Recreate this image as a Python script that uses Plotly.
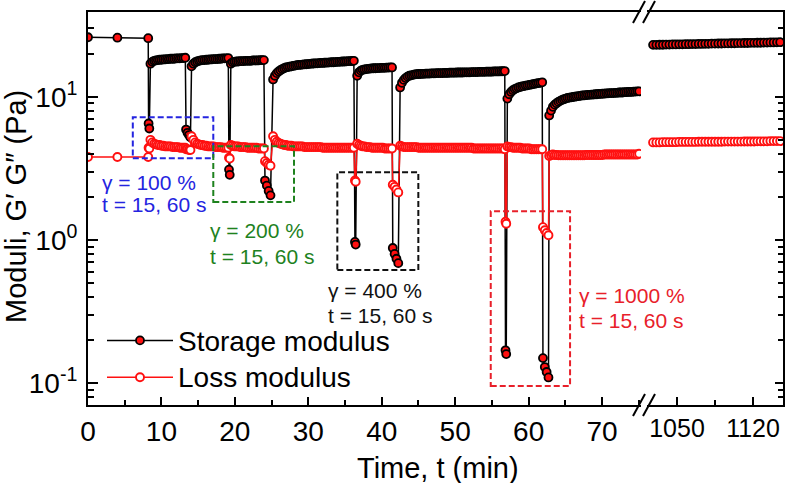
import plotly.graph_objects as go

# ---------------- data ----------------
DT = 0.25        # min, sampling interval of the low-strain recovery sweeps
LATE_DT = 3.0    # min, sampling interval of the long-time sweep

# initial low-strain plateau
t_init = [0.0, 4.0, 8.2]
gp_init = [26.0, 25.8, 25.6]
gpp_init = [3.8, 3.8, 3.8]

# high-strain intervals (explicit times, min)
t_s1 = [8.25, 8.35];                 gp_s1 = [6.5, 6.0];                 gpp_s1 = [4.4, 4.35]          # 100 %, 15 s
t_s2 = [13.35, 13.55, 13.75, 13.95]; gp_s2 = [5.9, 5.6, 5.4, 5.2];       gpp_s2 = [4.3, 4.3, 4.25, 4.25]  # 100 %, 60 s
t_s3 = [19.2, 19.3];                 gp_s3 = [3.1, 2.85];                gpp_s3 = [3.75, 3.7]          # 200 %, 15 s
t_s4 = [24.1, 24.35, 24.6, 24.85];   gp_s4 = [2.6, 2.4, 2.2, 2.05];      gpp_s4 = [3.55, 3.45, 3.35, 3.3]  # 200 %, 60 s
t_s5 = [36.35, 36.45];               gp_s5 = [0.97, 0.93];               gpp_s5 = [2.6, 2.55]          # 400 %, 15 s
t_s6 = [41.5, 41.75, 42.0, 42.25];   gp_s6 = [0.88, 0.80, 0.74, 0.69];   gpp_s6 = [2.43, 2.35, 2.25, 2.15]  # 400 %, 60 s
t_s7 = [56.85, 56.95];               gp_s7 = [0.17, 0.16];               gpp_s7 = [1.34, 1.3]          # 1000 %, 15 s
t_s8 = [61.95, 62.2, 62.45, 62.7];   gp_s8 = [0.15, 0.13, 0.12, 0.11];   gpp_s8 = [1.23, 1.17, 1.12, 1.08]  # 1000 %, 60 s

# recovery sweeps at low strain: start time (min) and readings every DT
r1_t0 = 8.5
gp_r1 = [17.0, 17.5, 17.8, 17.9, 18.0, 18.1, 18.1, 18.2, 18.2, 18.3,
         18.3, 18.4, 18.4, 18.4, 18.5, 18.5, 18.5, 18.6, 18.6, 18.7]
gpp_r1 = [5.0, 4.8, 4.7, 4.65, 4.6, 4.6, 4.55, 4.55, 4.5, 4.5,
          4.5, 4.5, 4.45, 4.45, 4.45, 4.45, 4.4, 4.4, 4.4, 4.4]

r2_t0 = 14.1
gp_r2 = [16.3, 17.0, 17.4, 17.6, 17.8, 17.9, 18.0, 18.0, 18.1, 18.1,
         18.2, 18.2, 18.3, 18.3, 18.3, 18.4, 18.4, 18.5, 18.5, 18.5, 18.6]
gpp_r2 = [5.3, 5.0, 4.8, 4.7, 4.65, 4.6, 4.6, 4.55, 4.55, 4.5,
          4.5, 4.5, 4.5, 4.45, 4.45, 4.45, 4.45, 4.4, 4.4, 4.4, 4.4]

r3_t0 = 19.45
gp_r3 = [17.0, 17.4, 17.5, 17.6, 17.6, 17.7, 17.7, 17.7, 17.8, 17.8,
         17.8, 17.8, 17.9, 17.9, 17.9, 17.9, 18.0, 18.0, 18.0]
gpp_r3 = [4.6, 4.55, 4.5, 4.5, 4.5, 4.45, 4.45, 4.45, 4.45, 4.4,
          4.4, 4.4, 4.4, 4.4, 4.4, 4.35, 4.35, 4.35, 4.35]

r4_t0 = 25.2
gp_r4 = [13.2, 14.0, 14.6, 15.0, 15.3, 15.6, 15.8, 16.0, 16.1, 16.2,
         16.3, 16.4, 16.5, 16.6, 16.65, 16.7, 16.75, 16.8, 16.85, 16.9,
         16.95, 17.0, 17.05, 17.1, 17.1, 17.15, 17.2, 17.2, 17.25, 17.3,
         17.3, 17.35, 17.4, 17.4, 17.45, 17.5, 17.5, 17.55, 17.6, 17.6,
         17.65, 17.7, 17.7, 17.75, 17.8]
gpp_r4 = [5.3, 5.0, 4.85, 4.75, 4.7, 4.65, 4.6, 4.6, 4.55, 4.55,
          4.55, 4.5, 4.5, 4.5, 4.5, 4.5, 4.5, 4.45, 4.45, 4.45,
          4.45, 4.45, 4.45, 4.45, 4.45, 4.45, 4.45, 4.4, 4.4, 4.4,
          4.4, 4.4, 4.4, 4.4, 4.4, 4.4, 4.4, 4.4, 4.4, 4.4,
          4.4, 4.4, 4.4, 4.4, 4.4]

r5_t0 = 36.65
gp_r5 = [14.0, 14.8, 15.2, 15.4, 15.5, 15.6, 15.65, 15.7, 15.75, 15.8,
         15.8, 15.85, 15.85, 15.9, 15.9, 15.9, 15.95, 15.95, 16.0, 16.0]
gpp_r5 = [4.7, 4.6, 4.55, 4.5, 4.5, 4.45, 4.45, 4.45, 4.4, 4.4,
          4.4, 4.4, 4.4, 4.4, 4.4, 4.35, 4.35, 4.35, 4.35, 4.35]

r6_t0 = 42.5
gp_r6 = [11.6, 12.5, 13.1, 13.5, 13.8, 14.0, 14.1, 14.2, 14.3, 14.35,
         14.4, 14.4, 14.45, 14.45, 14.5, 14.5, 14.5, 14.55, 14.55, 14.55,
         14.6, 14.6, 14.6, 14.6, 14.65, 14.65, 14.65, 14.7, 14.7, 14.7,
         14.7, 14.75, 14.75, 14.75, 14.75, 14.8, 14.8, 14.8, 14.8, 14.85,
         14.85, 14.85, 14.85, 14.9, 14.9, 14.9, 14.9, 14.95, 14.95, 14.95,
         14.95, 15.0, 15.0, 15.0, 15.0, 15.05, 15.05, 15.1]
gpp_r6 = [4.55, 4.5, 4.45, 4.45, 4.45, 4.45, 4.45, 4.45, 4.45, 4.45,
          4.4, 4.4, 4.4, 4.4, 4.4, 4.4, 4.4, 4.4, 4.4, 4.4,
          4.4, 4.4, 4.4, 4.4, 4.4, 4.4, 4.4, 4.4, 4.4, 4.4,
          4.4, 4.4, 4.4, 4.4, 4.4, 4.4, 4.4, 4.4, 4.4, 4.4,
          4.35, 4.35, 4.35, 4.35, 4.35, 4.35, 4.35, 4.35, 4.35, 4.35,
          4.35, 4.35, 4.35, 4.35, 4.35, 4.35, 4.35, 4.3]

r7_t0 = 57.1
gp_r7 = [9.7, 10.4, 10.8, 11.1, 11.3, 11.45, 11.6, 11.7, 11.8, 11.85,
         11.95, 12.0, 12.1, 12.15, 12.25, 12.3, 12.4, 12.45, 12.5, 12.6]
gpp_r7 = [4.5, 4.45, 4.45, 4.4, 4.4, 4.4, 4.4, 4.4, 4.35, 4.35,
          4.35, 4.35, 4.35, 4.3, 4.3, 4.3, 4.3, 4.3, 4.3, 4.3]

r8_t0 = 62.8
gp_r8 = [7.4, 8.0, 8.5, 8.8, 9.0, 9.2, 9.35, 9.5, 9.6, 9.7,
         9.8, 9.85, 9.9, 9.95, 10.0, 10.05, 10.1, 10.15, 10.2, 10.2,
         10.25, 10.3, 10.3, 10.35, 10.35, 10.4, 10.4, 10.45, 10.45, 10.5,
         10.5, 10.55, 10.55, 10.6, 10.6, 10.6, 10.65, 10.65, 10.7, 10.7,
         10.7, 10.75, 10.75, 10.8, 10.8, 10.8, 10.85, 10.85, 10.9, 10.9]
gpp_r8 = [3.85, 3.9, 3.95, 3.92, 3.92, 3.9, 3.9, 3.9, 3.9, 3.9,
          3.9, 3.9, 3.9, 3.9, 3.9, 3.9, 3.9, 3.9, 3.9, 3.9,
          3.92, 3.92, 3.92, 3.92, 3.92, 3.92, 3.92, 3.92, 3.92, 3.92,
          3.95, 3.95, 3.95, 3.95, 3.95, 3.95, 3.95, 3.95, 3.95, 3.95,
          3.95, 3.95, 3.95, 3.95, 3.95, 3.95, 3.95, 3.95, 3.95, 4.0]

# long-time sweep (right panel)
late_t0 = 1028.0
gp_late = [23.0, 23.0, 23.05, 23.05, 23.1, 23.1, 23.15, 23.15, 23.2, 23.2,
           23.25, 23.25, 23.3, 23.3, 23.35, 23.35, 23.4, 23.4, 23.45, 23.45,
           23.5, 23.5, 23.55, 23.55, 23.6, 23.6, 23.65, 23.65, 23.7, 23.7,
           23.75, 23.75, 23.8, 23.8, 23.85, 23.85, 23.9, 23.9, 23.95, 24.0]
gpp_late = [4.8, 4.8, 4.8, 4.82, 4.82, 4.82, 4.82, 4.82, 4.84, 4.84,
            4.84, 4.84, 4.84, 4.84, 4.85, 4.85, 4.85, 4.85, 4.85, 4.85,
            4.85, 4.85, 4.86, 4.86, 4.86, 4.86, 4.86, 4.86, 4.87, 4.87,
            4.87, 4.87, 4.88, 4.88, 4.88, 4.88, 4.9, 4.9, 4.9, 4.9]

# tick labels
y_tickvals = [0.1, 1, 10]
y_ticktext = ["10<sup>-1</sup>", "10<sup>0</sup>", "10<sup>1</sup>"]
y_minorvals = [0.08, 0.09, 0.2, 0.3, 0.4, 0.5, 0.6, 0.7, 0.8, 0.9,
               2, 3, 4, 5, 6, 7, 8, 9, 20, 30]
x2_tickvals = [1050, 1120]
x2_minorvals = [1085]

boxes = [  # strain amplitude annotations: label, colour, (t0, t1, G0, G1)
    ("γ = 100 %", "#2424e0", (6.1, 17.06, 3.72, 7.18)),
    ("γ = 200 %", "#1e821e", (17.06, 28.05, 1.84, 4.51)),
    ("γ = 400 %", "#111111", (33.95, 44.98, 0.618, 2.97)),
    ("γ = 1000 %", "#e8202a", (54.84, 65.64, 0.0958, 1.585)),
]


# ---------------- assemble series ----------------
def seg_times(t0, vals, dt=DT):
    return [round(t0 + dt * i, 3) for i in range(len(vals))]


explicit = [(t_init, gp_init, gpp_init), (t_s1, gp_s1, gpp_s1), (t_s2, gp_s2, gpp_s2),
            (t_s3, gp_s3, gpp_s3), (t_s4, gp_s4, gpp_s4), (t_s5, gp_s5, gpp_s5),
            (t_s6, gp_s6, gpp_s6), (t_s7, gp_s7, gpp_s7), (t_s8, gp_s8, gpp_s8)]
sweeps = [(r1_t0, gp_r1, gpp_r1), (r2_t0, gp_r2, gpp_r2), (r3_t0, gp_r3, gpp_r3),
          (r4_t0, gp_r4, gpp_r4), (r5_t0, gp_r5, gpp_r5), (r6_t0, gp_r6, gpp_r6),
          (r7_t0, gp_r7, gpp_r7), (r8_t0, gp_r8, gpp_r8)]

gp_pts, gpp_pts = [], []
for t, a, b in explicit:
    gp_pts += list(zip(t, a))
    gpp_pts += list(zip(t, b))
for t0, a, b in sweeps:
    gp_pts += list(zip(seg_times(t0, a), a))
    gpp_pts += list(zip(seg_times(t0, b), b))
gp_pts.sort()
gpp_pts.sort()
t_gp, v_gp = [p[0] for p in gp_pts], [p[1] for p in gp_pts]
t_gpp, v_gpp = [p[0] for p in gpp_pts], [p[1] for p in gpp_pts]
t_late_gp = seg_times(late_t0, gp_late, LATE_DT)
t_late_gpp = seg_times(late_t0, gpp_late, LATE_DT)

# ---------------- figure ----------------
FONT = "Liberation Sans, Arial, sans-serif"
W, H = 785, 483
ML, MR, MT, MB = 88, 2, 12, 78
PW, PH = W - ML - MR, H - MT - MB


def px(x):
    return (x - ML) / PW


def py(y):
    return (H - MB - y) / PH


RED = "#ff1010"
gp_marker = dict(symbol="circle", size=8, color=RED, line=dict(color="black", width=1.8))
gpp_marker = dict(symbol="circle", size=8, color="white", line=dict(color=RED, width=1.9))

fig = go.Figure()
fig.add_trace(go.Scatter(x=t_gp, y=v_gp, mode="lines+markers",
                         name='<span style="font-size:28px">Storage modulus</span>',
                         line=dict(color="black", width=1.5), marker=gp_marker,
                         xaxis="x", yaxis="y", legendgroup="gp", cliponaxis=True))
fig.add_trace(go.Scatter(x=t_late_gp, y=gp_late, mode="lines+markers", name="Storage modulus",
                         line=dict(color="black", width=1.5), marker=gp_marker,
                         xaxis="x2", yaxis="y2", legendgroup="gp", showlegend=False))
fig.add_trace(go.Scatter(x=t_gpp, y=v_gpp, mode="lines+markers",
                         name='<span style="font-size:28px">Loss modulus</span>',
                         line=dict(color=RED, width=1.5), marker=gpp_marker,
                         xaxis="x", yaxis="y", legendgroup="gpp"))
fig.add_trace(go.Scatter(x=t_late_gpp, y=gpp_late, mode="lines+markers", name="Loss modulus",
                         line=dict(color=RED, width=1.5), marker=gpp_marker,
                         xaxis="x2", yaxis="y2", legendgroup="gpp", showlegend=False))

axis_common = dict(showline=True, linecolor="black", linewidth=2, ticks="inside",
                   tickcolor="black", tickwidth=2, showgrid=False, zeroline=False,
                   tickfont=dict(family=FONT, size=28, color="black"))
yrange = [-1.151, 1.591]

fig.update_layout(
    width=W, height=H,
    margin=dict(l=ML, r=MR, t=MT, b=MB, autoexpand=False),
    paper_bgcolor="white", plot_bgcolor="white",
    font=dict(family=FONT, color="black"),
    xaxis=dict(domain=[0, px(641)], range=[0, 75.3], dtick=10, tick0=0, ticklen=8,
               mirror=True, ticklabelstandoff=0,
               minor=dict(dtick=5, tick0=0, ticks="inside", ticklen=5, tickwidth=1.5,
                          tickcolor="black"),
               anchor="y", **axis_common),
    xaxis2=dict(domain=[px(647), 1], range=[1022.4, 1147.6], tickmode="array",
                tickvals=x2_tickvals, ticklen=8, mirror=True, ticklabelstandoff=0,
                minor=dict(tickmode="array", tickvals=x2_minorvals, ticks="inside",
                           ticklen=5, tickwidth=1.5, tickcolor="black"),
                anchor="y2", **{**axis_common, "tickfont": dict(family=FONT, size=25, color="black")}),
    yaxis=dict(type="log", range=yrange, tickmode="array", tickvals=y_tickvals,
               ticktext=y_ticktext, ticklen=10, anchor="x", ticklabelstandoff=3,
               minor=dict(tickmode="array", tickvals=y_minorvals, ticks="inside",
                          ticklen=6, tickwidth=1.5, tickcolor="black"),
               **axis_common),
    yaxis2=dict(type="log", range=yrange, tickmode="array", tickvals=y_tickvals,
                ticktext=y_ticktext, showticklabels=False, ticklen=8, anchor="x2",
                side="right",
                minor=dict(tickmode="array", tickvals=y_minorvals, ticks="inside",
                           ticklen=5, tickwidth=1.5, tickcolor="black"),
                **axis_common),
    legend=dict(x=px(102), y=py(317), xanchor="left", yanchor="top",
                bgcolor="rgba(0,0,0,0)", font=dict(family=FONT, size=26, color="black"),
                itemwidth=66, tracegroupgap=0),
    showlegend=True,
)

# dashed boxes around the high-strain intervals
for label, col, (x0, x1, y0, y1) in boxes:
    fig.add_shape(type="rect", xref="x", yref="y", x0=x0, x1=x1, y0=y0, y1=y1,
                  line=dict(color=col, width=2, dash="6px,3px"), fillcolor="rgba(0,0,0,0)")

# labels
label_pos = [(100, 182, 204), (208, 231, 256), (326, 290, 315), (577, 295, 320)]
for (label, col, _), (lx, ly1, ly2) in zip(boxes, label_pos):
    for txt, yy in ((label, ly1), ("t = 15, 60 s", ly2)):
        fig.add_annotation(text=txt, xref="paper", yref="paper", x=px(lx), y=py(yy),
                           xanchor="left", yanchor="middle", showarrow=False,
                           font=dict(family=FONT, size=21, color=col))

# axis titles
fig.add_annotation(text="Time, t (min)", xref="paper", yref="paper", x=px(438), y=py(468),
                   xanchor="center", yanchor="middle", showarrow=False,
                   font=dict(family=FONT, size=29, color="black"))
fig.add_annotation(text="Moduli, G′ G″ (Pa)", xref="paper", yref="paper", x=px(16), y=py(207),
                   xanchor="center", yanchor="middle", textangle=-90, showarrow=False,
                   font=dict(family=FONT, size=29, color="black"))

# axis-break marks
for xb in (639, 649):
    for yb in (405, 12):
        fig.add_shape(type="line", xref="paper", yref="paper",
                      x0=px(xb - 6), y0=py(yb + 11), x1=px(xb + 6), y1=py(yb - 11),
                      line=dict(color="black", width=2))

fig.write_html("out.html", config={"displayModeBar": False},
               post_script="document.body.style.margin='0px';document.body.style.padding='0px';")
